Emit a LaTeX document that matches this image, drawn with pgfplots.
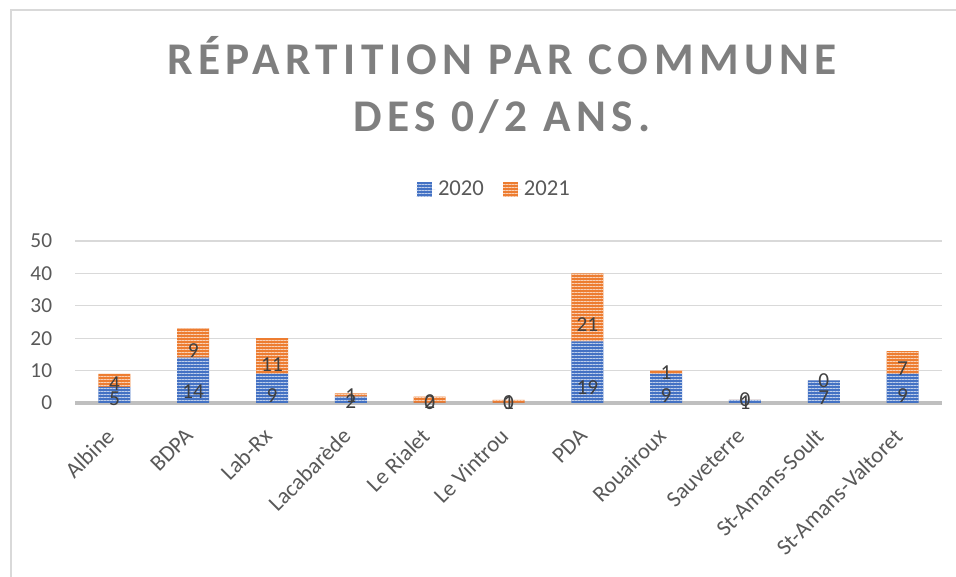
\documentclass[border=0pt]{standalone}
\usepackage{pgfplots}
\pgfplotsset{compat=1.18}
\usepackage{pgfplotstable}
\usetikzlibrary{patterns.meta}
\usepackage{fontspec}
\setmainfont{Carlito}
\newfontfamily\titlefont[LetterSpace=12]{Carlito}
\definecolor{blue20}{HTML}{4472C4}
\definecolor{orange21}{HTML}{ED7D31}
\definecolor{gridgray}{HTML}{D9D9D9}
\definecolor{axisgray}{HTML}{BFBFBF}
\definecolor{ticktext}{HTML}{595959}
\definecolor{labeltext}{HTML}{404040}
\definecolor{titlegray}{HTML}{7F7F7F}

\pgfplotstableread{
x a b
0 5 4
1 14 9
2 9 11
3 2 1
4 0 2
5 0 1
6 19 21
7 9 1
8 1 0
9 7 0
10 9 7
}\data

\begin{document}
\begin{tikzpicture}[x=0.75pt,y=0.75pt]
\path[use as bounding box] (0,0) rectangle (956,577);
\draw[gridgray, line width=1.8pt] (11,0) -- (11,567) -- (956,567);
\node[font=\titlefont\bfseries\fontsize{34}{40}\selectfont, text=titlegray, anchor=base] at (502,502) {RÉPARTITION PAR COMMUNE};
\node[font=\titlefont\bfseries\fontsize{34}{40}\selectfont, text=titlegray, anchor=base] at (502,445) {DES 0/2 ANS.};
\begin{axis}[
  at={(56.25pt,130.5pt)}, anchor=south west,
  scale only axis, width=650.25pt, height=121.5pt,
  ybar stacked, bar width=24pt,
  stacked ignores zero=false,
  xmin=-0.5, xmax=10.5, ymin=0, ymax=50,
  ytick={0,10,...,50},
  xtick={0,...,10},
  xticklabels={Albine, BDPA, Lab-Rx, Lacabarède, Le Rialet, Le Vintrou, PDA, Rouairoux, Sauveterre, St-Amans-Soult, St-Amans-Valtoret},
  axis line style={draw=none},
  tick style={draw=none},
  ymajorgrids, grid style={gridgray, line width=1pt},
  extra y ticks={0}, extra y tick labels={},
  extra y tick style={grid style={axisgray, line width=2.6pt}},
  /pgf/number format/assume math mode=true,
  yticklabel style={font=\fontsize{16}{19}\selectfont, text=ticktext, inner sep=0pt, xshift=-17pt},
  xticklabel style={font=\fontsize{17}{20}\selectfont, text=ticktext, xshift=-3pt, yshift=-22pt, rotate=45, anchor=east, inner sep=0pt},
  nodes near coords,
  nodes near coords align={center},
  point meta=explicit,
  visualization depends on={rawy \as \segval},
  every node near coord/.append style={anchor=center, yshift=-0.6075pt*\segval, font=\fontsize{16}{19}\selectfont, text=labeltext},
  legend columns=2,
  legend style={draw=none, fill=none, at={(0.484,1.318)}, anchor=center,
    font=\fontsize{17}{20}\selectfont, text=ticktext,
    /tikz/every even column/.append style={column sep=12pt}},
  legend image code/.code={\fill[#1] (0pt,-5.6pt) rectangle (11.25pt,5.6pt); \path (0pt,0pt) -- (14pt,0pt);},
]
\addplot[fill=blue20, draw=none,
  postaction={pattern={Lines[angle=0,distance=2.25pt,line width=0.6pt]}, pattern color=white!65!blue20}]
  table[x=x, y=a, meta=a] {\data};
\addplot[fill=orange21, draw=none,
  postaction={pattern={Lines[angle=0,distance=2.25pt,line width=0.6pt]}, pattern color=white!65!orange21}]
  table[x=x, y=b, meta=b] {\data};
\legend{2020, 2021}
\end{axis}
\end{tikzpicture}
\end{document}
